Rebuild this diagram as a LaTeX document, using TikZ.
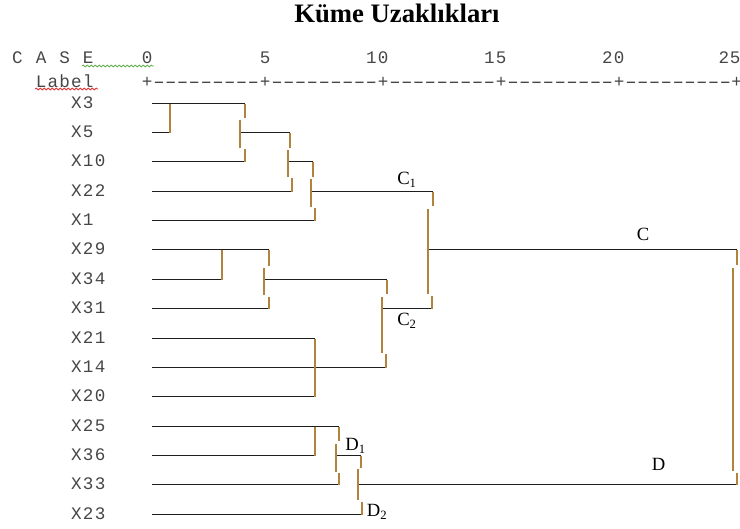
\documentclass[tikz,border=0pt]{standalone}
\usepackage{graphicx}
\usepackage{fontspec}
\setmainfont{Liberation Serif}
\newfontfamily\monof{Liberation Mono}
\usetikzlibrary{decorations.pathmorphing}
\definecolor{vgold}{RGB}{176,132,60}
\definecolor{hcol}{RGB}{30,30,30}
\definecolor{mtext}{RGB}{70,70,70}
\definecolor{sqgreen}{RGB}{100,175,80}
\definecolor{sqred}{RGB}{225,50,50}
\tikzset{
  hl/.style={draw=hcol, line width=0.75pt},
  vgl/.style={draw=vgold, line width=1.15pt},
  mono/.style={font=\monof\fontsize{13.2}{15}\selectfont, text=mtext, inner sep=0pt},
  lab/.style={font=\fontsize{14}{16}\selectfont, inner sep=0pt},
  ttl/.style={font=\bfseries\fontsize{20}{22}\selectfont, inner sep=0pt},
  squig/.style={decorate, decoration={snake, amplitude=0.7pt, segment length=3pt}, line width=0.6pt}
}
\newcommand{\vseg}[3]{\draw[vgl] (#1,#2) -- (#1,#3);}
\newcommand{\sub}[1]{\raisebox{-0.35ex}{\fontsize{9.5}{10}\selectfont #1}}
\newcommand{\cc}[1]{\makebox[8.85pt]{#1}}
\newcommand{\dd}{\cc{\scalebox{1.7}[1]{-}}}
\newcommand{\dn}{\dd\dd\dd\dd\dd\dd\dd\dd\dd}
\begin{document}
\begin{tikzpicture}[x=0.75pt,y=-0.75pt]
\useasboundingbox (0,0) rectangle (740,529);
% title
\node[ttl, anchor=base] (title) at (397,22) {Küme Uzaklıkları};
% header
\node[mono, anchor=base west] (case) at (11.3,63) {\cc{C}\cc{}\cc{A}\cc{}\cc{S}\cc{}\cc{E}};
\node[mono, anchor=base west] (n0) at (141.1,63) {\cc{0}};
\node[mono, anchor=base west] (n5) at (259.1,63) {\cc{5}};
\node[mono, anchor=base west] (n10) at (365.3,63) {\cc{1}\cc{0}};
\node[mono, anchor=base west] (n15) at (483.3,63) {\cc{1}\cc{5}};
\node[mono, anchor=base west] (n20) at (601.3,63) {\cc{2}\cc{0}};
\node[mono, anchor=base east] (n25) at (739.5,63) {\cc{2}\makebox[7pt][l]{5}};
\node[mono, anchor=base west] (label) at (34.9,87) {\cc{L}\cc{a}\cc{b}\cc{e}\cc{l}};
\node[mono, anchor=base west] (axis) at (141.1,87) {\cc{+}\dn\cc{+}\dn\cc{+}\dn\cc{+}\dn\cc{+}\dn\makebox[6pt][l]{+}};
\draw[squig, draw=sqgreen] (82,66) -- (154,66);
\draw[squig, draw=sqred] (35,89) -- (98,89);
% row labels
\node[mono, anchor=base west] (x3)  at (70.3,108.5) {\cc{X}\cc{3}};
\node[mono, anchor=base west] (x5)  at (70.3,137.5) {\cc{X}\cc{5}};
\node[mono, anchor=base west] (x10) at (70.3,166.5) {\cc{X}\cc{1}\cc{0}};
\node[mono, anchor=base west] (x22) at (70.3,196.5) {\cc{X}\cc{2}\cc{2}};
\node[mono, anchor=base west] (x1)  at (70.3,225.5) {\cc{X}\cc{1}};
\node[mono, anchor=base west] (x29) at (70.3,254.5) {\cc{X}\cc{2}\cc{9}};
\node[mono, anchor=base west] (x34) at (70.3,284.5) {\cc{X}\cc{3}\cc{4}};
\node[mono, anchor=base west] (x31) at (70.3,313.5) {\cc{X}\cc{3}\cc{1}};
\node[mono, anchor=base west] (x21) at (70.3,343.5) {\cc{X}\cc{2}\cc{1}};
\node[mono, anchor=base west] (x14) at (70.3,372.5) {\cc{X}\cc{1}\cc{4}};
\node[mono, anchor=base west] (x20) at (70.3,401.5) {\cc{X}\cc{2}\cc{0}};
\node[mono, anchor=base west] (x25) at (70.3,431.5) {\cc{X}\cc{2}\cc{5}};
\node[mono, anchor=base west] (x36) at (70.3,460.5) {\cc{X}\cc{3}\cc{6}};
\node[mono, anchor=base west] (x33) at (70.3,489.5) {\cc{X}\cc{3}\cc{3}};
\node[mono, anchor=base west] (x23) at (70.3,519.5) {\cc{X}\cc{2}\cc{3}};
\begin{scope}[yshift=-0.375pt]
% horizontal lines
\draw[hl] (152,103) -- (245,103);
\draw[hl] (152,132) -- (170,132);
\draw[hl] (240,132) -- (290,132);
\draw[hl] (152,161) -- (245,161);
\draw[hl] (288,161) -- (313,161);
\draw[hl] (152,191) -- (292,191);
\draw[hl] (311,191) -- (433,191);
\draw[hl] (152,220) -- (315,220);
\draw[hl] (152,249) -- (269,249);
\draw[hl] (428,249) -- (737,249);
\draw[hl] (152,279) -- (222,279);
\draw[hl] (264,279) -- (387,279);
\draw[hl] (152,308) -- (269,308);
\draw[hl] (382,308) -- (432,308);
\draw[hl] (152,338) -- (315,338);
\draw[hl] (152,367) -- (386,367);
\draw[hl] (152,396) -- (315,396);
\draw[hl] (152,426) -- (339,426);
\draw[hl] (152,455) -- (315,455);
\draw[hl] (336,455) -- (361,455);
\draw[hl] (152,484) -- (339,484);
\draw[hl] (358,484) -- (737,484);
\draw[hl] (152,514) -- (362,514);
% vertical lines
\vseg{170}{103}{132}
\vseg{245}{103}{117}
\vseg{240}{119}{147}
\vseg{245}{148}{161}
\vseg{290}{132}{147}
\vseg{288}{149}{176}
\vseg{292}{177}{191}
\vseg{313}{161}{176}
\vseg{311}{178}{206}
\vseg{315}{207}{220}
\vseg{222}{249}{279}
\vseg{269}{249}{265}
\vseg{264}{267}{294}
\vseg{269}{296}{308}
\vseg{387}{279}{293}
\vseg{382}{296}{352}
\vseg{386}{353}{367}
\vseg{315}{338}{396}
\vseg{433}{191}{205}
\vseg{428}{208}{293}
\vseg{432}{295}{308}
\vseg{737}{249}{264}
\vseg{733}{267}{470}
\vseg{737}{472}{484}
\vseg{315}{426}{455}
\vseg{339}{426}{440}
\vseg{336}{443}{471}
\vseg{339}{472}{484}
\vseg{361}{455}{467}
\vseg{358}{468}{499}
\vseg{362}{501}{514}
\end{scope}
% cluster labels
\node[lab, anchor=base west] (c1) at (397,184.5) {C\sub{1}};
\node[lab, anchor=base west] (c2) at (397,325) {C\sub{2}};
\node[lab, anchor=base west] (c) at (636.5,240.5) {C};
\node[lab, anchor=base west] (d) at (651.5,470.5) {D};
\node[lab, anchor=base west] (d1) at (345,450) {D\sub{1}};
\node[lab, anchor=base west] (d2) at (366.5,516.5) {D\sub{2}};
\end{tikzpicture}
\end{document}
